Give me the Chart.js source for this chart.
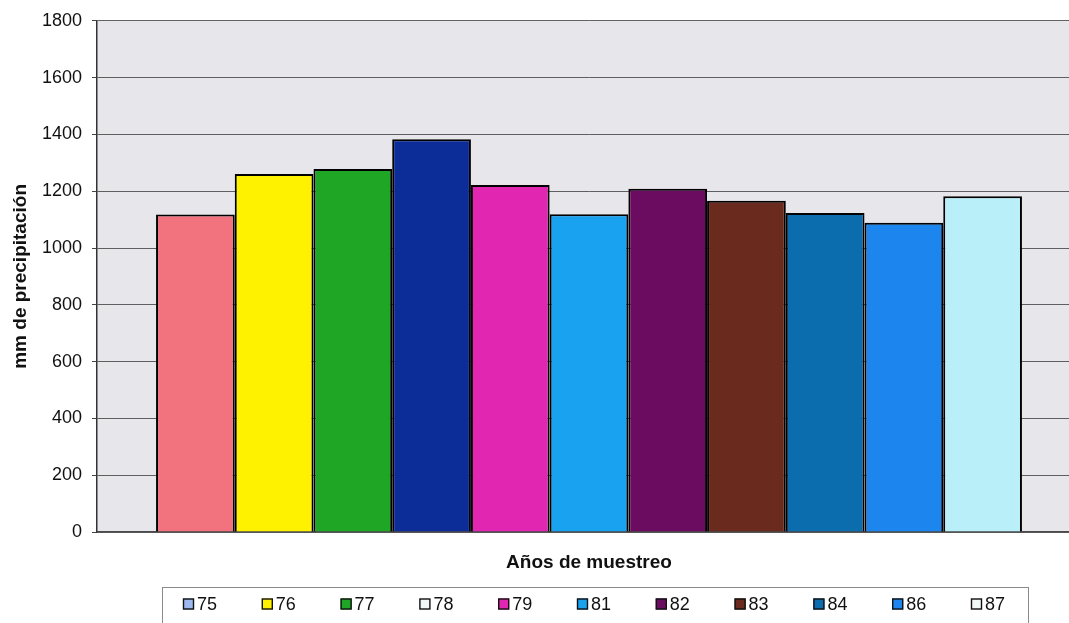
<!DOCTYPE html>
<html>
<head>
<meta charset="utf-8">
<script src="https://cdn.jsdelivr.net/npm/chart.js@4.4.1/dist/chart.umd.min.js"></script>
<style>
  html, body { margin: 0; padding: 0; background: #ffffff; overflow: hidden; }
  #wrap { position: relative; width: 1081px; height: 623px; }
  canvas { display: block; }
</style>
</head>
<body>
<div id="wrap"><canvas id="c" width="1081" height="623"></canvas></div>
<script>
// Sampling years (one series per year)
const years = ['75', '76', '77', '78', '79', '81', '82', '83', '84', '86', '87'];

// Annual precipitation, mm
const precipitation = [1118, 1261, 1278, 1383, 1222, 1119, 1209, 1166, 1123, 1089, 1182];

// Fill colour of each bar
const barColors = ['#f2727e', '#fff200', '#1fa625', '#0c2c98', '#e126b2', '#18a2f0',
                   '#6c0c60', '#6a2a1e', '#0b6cae', '#1d86ee', '#b8eff9'];

// Swatch colour shown for each year in the legend
const legendColors = ['#9db9ef', '#fff200', '#1fa625', '#f2f6f6', '#e126b2', '#18a2f0',
                      '#6c0c60', '#6a2a1e', '#0b6cae', '#1d86ee', '#f2f8f8'];

// Value axis range and tick step
const yMin = 0, yMax = 1800, yStep = 200;

const FONT = '"Liberation Sans", Arial, Helvetica, sans-serif';

// Grey plot-area background
const plotBackground = {
  id: 'plotBackground',
  beforeDraw(chart) {
    const { ctx, chartArea: a } = chart;
    ctx.save();
    ctx.fillStyle = '#e7e7eb';
    ctx.fillRect(a.left, a.top, a.right - a.left, a.bottom - a.top);
    ctx.restore();
  }
};

// Boxed legend row under the axis title
const boxedLegend = {
  id: 'boxedLegend',
  afterDraw(chart) {
    const ctx = chart.ctx;
    const boxLeft = 162, boxRight = 1028, boxTop = 587, boxBottom = 640;
    const firstSwatch = 183, spacing = 78.8, rowY = 604, sw = 11;
    ctx.save();
    ctx.strokeStyle = '#8a8a8a';
    ctx.lineWidth = 1;
    ctx.strokeRect(boxLeft + 0.5, boxTop + 0.5, boxRight - boxLeft, boxBottom - boxTop);
    ctx.font = '18px ' + FONT;
    ctx.textBaseline = 'middle';
    ctx.textAlign = 'left';
    chart.data.datasets.forEach((ds, i) => {
      const x = firstSwatch + i * spacing;
      ctx.fillStyle = legendColors[i];
      ctx.fillRect(x, rowY - sw / 2, sw, sw);
      ctx.strokeStyle = '#111';
      ctx.lineWidth = 1.4;
      ctx.strokeRect(x + 0.5, rowY - sw / 2 + 0.5, sw - 1, sw - 1);
      ctx.fillStyle = '#111';
      ctx.fillText(ds.label, x + sw + 3, rowY + 1);
    });
    ctx.restore();
  }
};

const datasets = years.map((y, i) => ({
  label: y,
  data: [precipitation[i]],
  backgroundColor: barColors[i],
  borderColor: '#000000',
  borderWidth: 2,
  categoryPercentage: 0.88,
  barPercentage: 1.0
}));

new Chart(document.getElementById('c'), {
  type: 'bar',
  data: { labels: [''], datasets },
  options: {
    responsive: false,
    animation: false,
    devicePixelRatio: 1,
    layout: { padding: { top: 19, left: 0, right: 0, bottom: 49 } },
    plugins: {
      legend: { display: false },
      tooltip: { enabled: false }
    },
    scales: {
      x: {
        grid: { display: false },
        border: { display: true, color: '#4a4a4a', width: 1.5 },
        ticks: { display: false },
        title: {
          display: true,
          text: 'Años de muestreo',
          color: '#111',
          font: { family: FONT, size: 19, weight: 'bold' },
          padding: { top: 0, bottom: 0 }
        },
        afterFit(scale) { scale.height = 42; }
      },
      y: {
        min: yMin,
        max: yMax,
        ticks: {
          stepSize: yStep,
          color: '#111',
          font: { family: FONT, size: 18 },
          padding: 10,
          callback: (v) => String(v)
        },
        grid: {
          color: 'rgba(70,70,70,0.85)',
          lineWidth: 1,
          drawTicks: true,
          tickLength: 5,
          tickColor: '#444'
        },
        border: { display: true, color: '#333', width: 1.5 },
        title: {
          display: true,
          text: 'mm de precipitación',
          color: '#111',
          font: { family: FONT, size: 19, weight: 'bold' },
          padding: { top: 9, bottom: 0 }
        },
        afterFit(scale) { scale.width = 97; }
      }
    }
  },
  plugins: [plotBackground, boxedLegend]
});
</script>
</body>
</html>
